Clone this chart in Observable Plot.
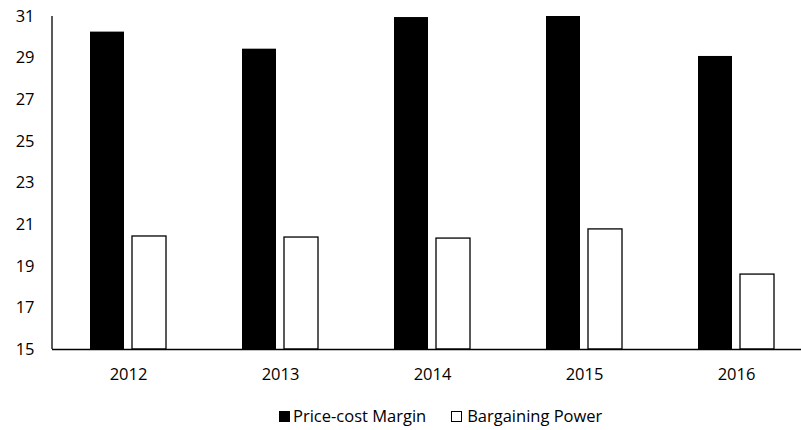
<!DOCTYPE html>
<html>
<head>
<meta charset="utf-8">
<script src="https://cdn.jsdelivr.net/npm/d3@7"></script>
<script src="https://cdn.jsdelivr.net/npm/@observablehq/plot@0.6"></script>
<style>
  html, body { margin: 0; padding: 0; background: #fff; overflow: hidden; }
  #chart svg { display: block; }
  .legend { display: flex; align-items: center; font-family: "Open Sans", sans-serif; font-size: 16.5px; color: #000; line-height: 20px; padding-top: 11px; margin-left: 279px; }
  .legend .item { display: flex; align-items: center; }
  .legend .sw { width: 11px; height: 11px; box-sizing: border-box; margin-right: 3px; margin-top: 1px; }
  .legend .sw.black { background: #000; }
  .legend .sw.white { background: #fff; border: 1.3px solid #000; margin-right: 5px; }
</style>
</head>
<body>
<div id="chart"></div>
<div class="legend">
  <div class="item"><span class="sw black"></span><span>Price-cost Margin</span></div>
  <div class="item" style="margin-left:25px"><span class="sw white"></span><span>Bargaining Power</span></div>
</div>
<script>
const years = ["2012", "2013", "2014", "2015", "2016"];
const seriesNames = ["Price-cost Margin", "Bargaining Power"];
const priceCostMargin = [30.25, 29.43, 30.95, 31.0, 29.08];
const bargainingPower = [20.43, 20.38, 20.33, 20.77, 18.6];
const yTicks = [15, 17, 19, 21, 23, 25, 27, 29, 31];

const data = [];
years.forEach((y, i) => {
  data.push({year: y, series: seriesNames[0], value: priceCostMargin[i]});
  data.push({year: y, series: seriesNames[1], value: bargainingPower[i]});
});

const plot = Plot.plot({
  width: 801,
  height: 395,
  marginLeft: 50,
  marginRight: -13,
  marginTop: 16,
  marginBottom: 46,
  style: {fontFamily: "'Open Sans', sans-serif", fontSize: "16.5px", color: "#000", background: "#fff"},
  fx: {domain: years, padding: 0, label: null, axis: "bottom", tickSize: 0, tickPadding: 19},
  x: {domain: seriesNames, paddingInner: 0.2, paddingOuter: 0.876, axis: null},
  y: {domain: [15, 31], ticks: yTicks, label: null, tickSize: 0, tickPadding: 18},
  color: {domain: seriesNames, range: ["#000", "#fff"]},
  marks: [
    Plot.barY(data, {fx: "year", x: "series", y1: 15, y2: "value", fill: "series",
      stroke: d => d.series === seriesNames[1] ? "#000" : "none", strokeWidth: 1.3}),
    Plot.ruleY([15], {stroke: "#000", strokeWidth: 1.3})
  ]
});
document.getElementById("chart").appendChild(plot);

// vertical y-axis line at the left edge of the plot area, placed via the chart's own scales
const ys = plot.scale("y");
const fxs = plot.scale("fx");
const xLeft = fxs.apply(years[0]);
d3.select(plot).append("line")
  .attr("x1", xLeft).attr("x2", xLeft)
  .attr("y1", ys.apply(yTicks[0])).attr("y2", ys.apply(yTicks[yTicks.length - 1]))
  .attr("stroke", "#000").attr("stroke-width", 1.3);
</script>
</body>
</html>
